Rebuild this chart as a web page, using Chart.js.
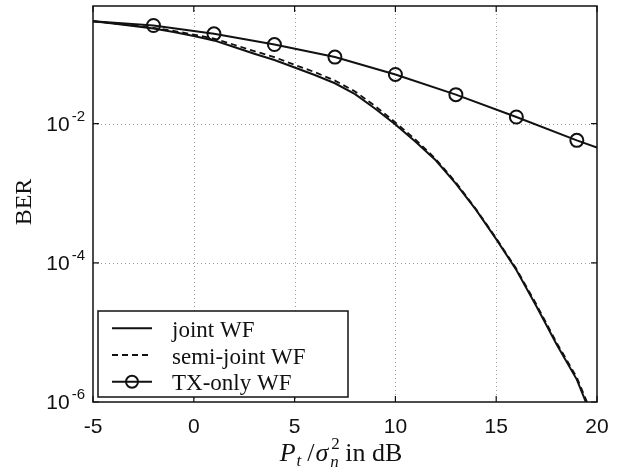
<!DOCTYPE html>
<html>
<head>
<meta charset="utf-8">
<script src="https://cdn.jsdelivr.net/npm/chart.js@4"></script>
<style>
html,body{margin:0;padding:0;background:#fff;}
#c{display:block;}
</style>
</head>
<body>
<canvas id="c" width="621" height="475"></canvas>
<script>
// ---- data ----
const seriesNames = ['joint WF', 'semi-joint WF', 'TX-only WF'];
const snrX = [-5,-4,-3,-2,-1,0,1,2,3,4,5,6,7,8,9,10,11,12,13,14,15,16,17,18,19,20];
const jointBER = [0.296,0.275,0.253,0.232,0.207,0.181,0.157,0.126,0.101,0.082,0.064,0.050,0.0380,0.0265,0.0164,0.0097,0.0055,0.00297,0.00137,5.75e-4,2.19e-4,7.9e-5,2.36e-5,6.7e-6,2.1e-6,4e-7];
const semiBER  = [0.296,0.277,0.257,0.238,0.215,0.190,0.167,0.136,0.110,0.090,0.070,0.055,0.0415,0.0290,0.0178,0.0104,0.0059,0.0031,0.00143,5.9e-4,2.25e-4,8.2e-5,2.5e-5,7.1e-6,2.25e-6,4.5e-7];
const txX = [-5,-2,1,4,7,10,13,16,19,20];
const txBER = [0.296,0.257,0.195,0.137,0.0904,0.0509,0.0261,0.01245,0.00575,0.00453];
const txMarkerX = [-2,1,4,7,10,13,16,19];
const xTickVals = [-5,0,5,10,15,20];
const xGridVals = [0,5,10,15];
const yTickVals = [1e-6,1e-4,1e-2];
const yTickExp = ['-6','-4','-2'];
const yGridVals = [1e-4,1e-2];

const pts = (xs, ys) => xs.map((x,i)=>({x:x, y:ys[i]}));

const decor = {
  id:'decor',
  beforeDatasetsDraw(chart){
    const {ctx, chartArea:a, scales:{x,y}} = chart;
    ctx.save();
    ctx.strokeStyle = '#9a9a9a';
    ctx.lineWidth = 1;
    ctx.setLineDash([1,3]);
    xGridVals.forEach(v=>{
      const px = Math.round(x.getPixelForValue(v))+0.5;
      ctx.beginPath(); ctx.moveTo(px,a.top); ctx.lineTo(px,a.bottom); ctx.stroke();
    });
    yGridVals.forEach(v=>{
      const py = Math.round(y.getPixelForValue(v))+0.5;
      ctx.beginPath(); ctx.moveTo(a.left,py); ctx.lineTo(a.right,py); ctx.stroke();
    });
    ctx.restore();
  },
  afterDraw(chart){
    const {ctx, chartArea:a, scales:{x,y}} = chart;
    ctx.save();
    ctx.setLineDash([]);
    ctx.strokeStyle = '#111';
    ctx.fillStyle = '#111';
    ctx.lineWidth = 1.5;
    ctx.strokeRect(a.left, a.top, a.right-a.left, a.bottom-a.top);
    // ticks (inward, all four sides)
    const tl = 6;
    ctx.lineWidth = 1.2;
    xTickVals.forEach(v=>{
      const px = x.getPixelForValue(v);
      ctx.beginPath(); ctx.moveTo(px,a.bottom); ctx.lineTo(px,a.bottom-tl);
      ctx.moveTo(px,a.top); ctx.lineTo(px,a.top+tl); ctx.stroke();
    });
    yTickVals.forEach(v=>{
      const py = y.getPixelForValue(v);
      ctx.beginPath(); ctx.moveTo(a.left,py); ctx.lineTo(a.left+tl,py);
      ctx.moveTo(a.right,py); ctx.lineTo(a.right-tl,py); ctx.stroke();
    });
    // x tick labels
    ctx.font = '21px "Liberation Sans", Arial, sans-serif';
    ctx.textAlign = 'center';
    ctx.textBaseline = 'alphabetic';
    xTickVals.forEach(v=>{
      ctx.fillText(String(v), x.getPixelForValue(v), a.bottom+31);
    });
    // y tick labels 10^n
    yTickVals.forEach((v,i)=>{
      const py = y.getPixelForValue(v);
      ctx.font = '15px "Liberation Sans", Arial, sans-serif';
      const we = ctx.measureText(yTickExp[i]).width;
      ctx.font = '21px "Liberation Sans", Arial, sans-serif';
      const wb = ctx.measureText('10').width;
      const right = a.left - 8;
      ctx.textAlign = 'left';
      ctx.fillText('10', right - we - 2 - wb, py + 7);
      ctx.font = '15px "Liberation Sans", Arial, sans-serif';
      ctx.fillText(yTickExp[i], right - we, py - 3);
    });
    // y title
    ctx.save();
    ctx.translate(25, 202);
    ctx.rotate(-Math.PI/2);
    ctx.font = '24px "Liberation Serif", "Times New Roman", serif';
    ctx.textAlign = 'center';
    ctx.textBaseline = 'middle';
    ctx.fillText('BER', 0, 0);
    ctx.restore();
    // x title: P_t / sigma_n^2 in dB
    const base = 461;
    const big = 'italic 26px "Liberation Serif", serif';
    const small = 'italic 17px "Liberation Serif", serif';
    const up = '26px "Liberation Serif", serif';
    const upSmall = '17px "Liberation Serif", serif';
    ctx.textAlign = 'left';
    ctx.font = big; const wP = ctx.measureText('P').width;
    ctx.font = small; const wt = ctx.measureText('t').width;
    ctx.font = up; const wSl = ctx.measureText('/').width;
    ctx.font = big; const wS = ctx.measureText('σ').width;
    ctx.font = small; const wn = ctx.measureText('n').width;
    ctx.font = upSmall; const w2 = ctx.measureText('2').width;
    ctx.font = up; const wIn = ctx.measureText(' in dB').width;
    const total = wP + 1 + wt + 6 + wSl + 1 + wS + 2 + Math.max(wn,w2) + wIn;
    let cx = 341 - total/2;
    ctx.font = big; ctx.fillText('P', cx, base); cx += wP + 1;
    ctx.font = small; ctx.fillText('t', cx, base + 5); cx += wt + 6;
    ctx.font = up; ctx.fillText('/', cx, base); cx += wSl + 1;
    ctx.font = big; ctx.fillText('σ', cx, base); cx += wS + 2;
    ctx.font = small; ctx.fillText('n', cx, base + 6);
    ctx.font = upSmall; ctx.fillText('2', cx + 1, base - 12);
    cx += Math.max(wn,w2);
    ctx.font = up; ctx.fillText(' in dB', cx, base);
    // legend
    const lx = 98, ly = 311, lw = 250, lh = 86;
    ctx.fillStyle = '#fff';
    ctx.fillRect(lx, ly, lw, lh);
    ctx.strokeStyle = '#111';
    ctx.lineWidth = 1.5;
    ctx.strokeRect(lx, ly, lw, lh);
    ctx.fillStyle = '#111';
    chart.data.datasets.forEach((ds,i)=>{
      const ry = 328.3 + i*26.7;
      ctx.strokeStyle = ds.borderColor;
      ctx.lineWidth = ds.borderWidth;
      ctx.setLineDash(ds.borderDash || []);
      ctx.beginPath(); ctx.moveTo(112, ry); ctx.lineTo(152, ry); ctx.stroke();
      ctx.setLineDash([]);
      if (ds.legendMarker) {
        ctx.beginPath(); ctx.arc(132, ry, 6, 0, Math.PI*2); ctx.stroke();
      }
      ctx.font = '23px "Liberation Serif", "Times New Roman", serif';
      ctx.textAlign = 'left';
      ctx.textBaseline = 'alphabetic';
      ctx.fillText(ds.label, 172, ry + 8.5);
    });
    ctx.restore();
  }
};

new Chart(document.getElementById('c'), {
  type: 'line',
  data: {
    datasets: [
      { label: seriesNames[0], data: pts(snrX, jointBER), borderColor:'#111', borderWidth:2, pointRadius:0, tension:0, fill:false },
      { label: seriesNames[1], data: pts(snrX, semiBER), borderColor:'#111', borderWidth:1.8, borderDash:[6,4], pointRadius:0, tension:0, fill:false },
      { label: seriesNames[2], data: pts(txX, txBER), borderColor:'#111', borderWidth:2, tension:0, fill:false,
        legendMarker:true,
        pointRadius: ctx => txMarkerX.includes(txX[ctx.dataIndex]) ? 6.5 : 0,
        pointBorderWidth: 2, pointBorderColor:'#111', pointBackgroundColor:'rgba(0,0,0,0)', pointStyle:'circle' }
    ]
  },
  options: {
    responsive:false,
    animation:false,
    devicePixelRatio:1,
    layout:{ padding:{ top:6, right:24, left:0, bottom:0 } },
    plugins:{ legend:{display:false}, tooltip:{enabled:false} },
    scales:{
      x:{ type:'linear', min:-5, max:20,
          ticks:{display:false}, grid:{display:false}, border:{display:false},
          afterFit(s){ s.height = 73; } },
      y:{ type:'logarithmic', min:1e-6, max:0.49,
          ticks:{display:false}, grid:{display:false}, border:{display:false},
          afterFit(s){ s.width = 93; } }
    }
  },
  plugins:[decor]
});
</script>
</body>
</html>
